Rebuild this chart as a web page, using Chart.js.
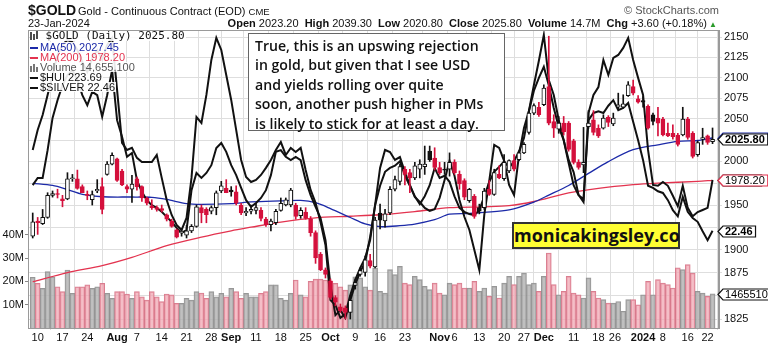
<!DOCTYPE html>
<html>
<head>
<meta charset="utf-8">
<script src="https://cdn.jsdelivr.net/npm/chart.js@4.4.1/dist/chart.umd.min.js"></script>
<style>
  body { margin: 0; background: #fff; }
  #wrap { position: relative; width: 768px; height: 344px; overflow: hidden; font-family: "Liberation Sans", Arial, sans-serif; color: #111; }
  #dataChart { position: absolute; left: 0; top: 0; }
  .abs { position: absolute; white-space: nowrap; line-height: 1; }
  .row { position: absolute; left: 30px; white-space: nowrap; font-size: 11px; line-height: 10px; background: rgba(255,255,255,0.9); padding-right: 1px; }
  .dash { display: inline-block; width: 8px; height: 2px; vertical-align: middle; margin-right: 2px; }
  #note { position: absolute; left: 248px; top: 33px; width: 243px; height: 92px; border: 1px solid #666; background: #fff;
          padding: 2px 6px; font-family: "Open Sans", sans-serif; font-weight: 600; font-size: 14.1px; line-height: 19.4px; color: #111; white-space: nowrap; }
  #site { position: absolute; left: 512px; top: 222px; width: 164px; height: 23px; border: 2px solid #333; background: #ffff33;
          font-family: "Open Sans", sans-serif; font-weight: 700; font-size: 18px; line-height: 23px; text-align: center; color: #111; }
</style>
</head>
<body>
<div id="wrap">
  <canvas id="dataChart" width="768" height="344"></canvas>

  <div class="abs" style="left:28px;top:3px;font-size:14px;font-weight:bold">$GOLD</div>
  <div class="abs" style="left:78px;top:6px;font-size:11px">Gold - Continuous Contract (EOD) <span style="font-size:9.5px">CME</span></div>
  <div class="abs" style="left:28px;top:18px;font-size:11px">23-Jan-2024</div>
  <div class="abs" style="right:51px;top:18px;font-size:11px"><b>Open</b> 2023.20 &nbsp;<b>High</b> 2039.30 &nbsp;<b>Low</b> 2020.80 &nbsp;<b>Close</b> 2025.80 &nbsp;<b>Volume</b> 14.7M &nbsp;<b>Chg</b> +3.60 (+0.18%)<span style="color:#2a9a2a;font-size:8px"> &#9650;</span></div>
  <div class="abs" style="right:49px;top:5px;font-size:11px;color:#555">&#169; StockCharts.com</div>

  <div class="row" style="top:31px;font-family:'DejaVu Sans Mono',monospace"><svg width="9" height="9" style="vertical-align:-1px"><path d="M1 1v8M4 3v6M7 0v8" stroke="#111" stroke-width="1.5"/></svg> $GOLD (Daily) 2025.80</div>
  <div class="row" style="top:42px;color:#1c2aa8"><span class="dash" style="background:#1c2aa8"></span>MA(50) 2027.45</div>
  <div class="row" style="top:52px;color:#e3334f"><span class="dash" style="background:#e3334f"></span>MA(200) 1978.20</div>
  <div class="row" style="top:62px;color:#555"><svg width="9" height="9" style="vertical-align:-1px;margin-right:1px"><path d="M1 3v6M4 1v8M7 4v5" stroke="#777" stroke-width="2"/></svg>Volume 14,655,100</div>
  <div class="row" style="top:72px"><span class="dash" style="background:#111"></span>$HUI 223.69</div>
  <div class="row" style="top:82px"><span class="dash" style="background:#111"></span>$SILVER 22.46</div>

  <div id="note">True, this is an upswing rejection<br>in gold, but given that I see USD<br>and yields rolling over quite<br>soon, another push higher in PMs<br>is likely to stick for at least a day.</div>
  <div id="site">monicakingsley.co</div>
</div>

<script>
// trading days, Jul 7 2023 .. Jan 23 2024
const dates = [
  'Jul 7','Jul 10','Jul 11','Jul 12','Jul 13','Jul 14','Jul 17','Jul 18','Jul 19','Jul 20','Jul 21','Jul 24','Jul 25','Jul 26','Jul 27','Jul 28','Jul 31',
  'Aug 1','Aug 2','Aug 3','Aug 4','Aug 7','Aug 8','Aug 9','Aug 10','Aug 11','Aug 14','Aug 15','Aug 16','Aug 17','Aug 18','Aug 21','Aug 22','Aug 23','Aug 24','Aug 25','Aug 28','Aug 29','Aug 30','Aug 31',
  'Sep 1','Sep 5','Sep 6','Sep 7','Sep 8','Sep 11','Sep 12','Sep 13','Sep 14','Sep 15','Sep 18','Sep 19','Sep 20','Sep 21','Sep 22','Sep 25','Sep 26','Sep 27','Sep 28','Sep 29',
  'Oct 2','Oct 3','Oct 4','Oct 5','Oct 6','Oct 9','Oct 10','Oct 11','Oct 12','Oct 13','Oct 16','Oct 17','Oct 18','Oct 19','Oct 20','Oct 23','Oct 24','Oct 25','Oct 26','Oct 27','Oct 30','Oct 31',
  'Nov 1','Nov 2','Nov 3','Nov 6','Nov 7','Nov 8','Nov 9','Nov 10','Nov 13','Nov 14','Nov 15','Nov 16','Nov 17','Nov 20','Nov 21','Nov 22','Nov 24','Nov 27','Nov 28','Nov 29','Nov 30',
  'Dec 1','Dec 4','Dec 5','Dec 6','Dec 7','Dec 8','Dec 11','Dec 12','Dec 13','Dec 14','Dec 15','Dec 18','Dec 19','Dec 20','Dec 21','Dec 22','Dec 26','Dec 27','Dec 28','Dec 29',
  'Jan 2','Jan 3','Jan 4','Jan 5','Jan 8','Jan 9','Jan 10','Jan 11','Jan 12','Jan 16','Jan 17','Jan 18','Jan 19','Jan 22','Jan 23'
];

const openPrices = [
  1915,1932,1929,1936,1961,1963,1957,1957,1980,1980,1971,1962,1956,1966,1971,1985,1997,
  2003,1989,1971,1968,1980,1971,1958,1949,1947,1946,1939,1932,1922,1919,1916,1921,1926,1947,1945,1943,1947,1966,1969,
  1967,1965,1950,1941,1943,1944,1944,1934,1928,1930,1944,1950,1950,1950,1938,1942,1934,1919,1895,1878,
  1866,1848,1838,1837,1832,1861,1873,1875,1888,1881,1941,1932,1941,1968,1977,1991,1987,1981,1991,1994,2012,2004,
  1993,1991,1991,1999,1985,1978,1955,1960,1947,1947,1968,1962,1985,1980,1989,2001,2002,2010,2034,2057,2064,
  2067,2089,2047,2038,2045,2045,2024,1999,1996,2041,2049,2039,2039,2052,2044,2064,2064,2078,2089,2074,
  2072,2065,2055,2051,2050,2033,2033,2031,2031,2050,2033,2008,2026,2030,2023.2
];
const highPrices = [
  1941,1936,1945,1964,1966,1968,1961,1987,1985,1990,1973,1966,1966,1979,1981,2000,2010,
  2004,1991,1973,1984,1982,1972,1959,1956,1949,1950,1940,1934,1923,1923,1927,1928,1950,1950,1947,1949,1966,1977,1979,
  1971,1972,1952,1947,1950,1952,1947,1936,1934,1945,1958,1958,1969,1952,1947,1947,1937,1921,1897,1880,
  1868,1850,1841,1839,1850,1868,1880,1893,1895,1936,1951,1945,1971,1983,1997,1994,1991,1999,2002,2018,2018,2016,
  1999,1999,2010,2002,1989,1980,1969,1962,1951,1969,1978,1991,1995,2008,2002,2008,2012,2022,2061,2068,2070,
  2091,2151,2055,2053,2053,2047,2026,2002,2040,2060,2060,2043,2055,2054,2057,2081,2079,2095,2097,2078,
  2077,2067,2057,2064,2052,2045,2043,2033,2064,2052,2035,2024,2039,2031,2039.3
];
const lowPrices = [
  1913,1917,1928,1935,1959,1958,1948,1956,1977,1968,1964,1956,1950,1964,1940,1984,1996,
  1977,1972,1964,1953,1967,1954,1950,1945,1943,1942,1932,1925,1913,1915,1913,1919,1925,1930,1930,1940,1939,1964,1964,
  1960,1950,1939,1938,1940,1940,1932,1926,1921,1928,1943,1949,1948,1934,1935,1934,1915,1885,1877,1869,
  1846,1839,1832,1825,1825,1857,1871,1871,1880,1880,1923,1925,1939,1966,1973,1973,1964,1979,1981,1985,2000,1990,
  1985,1985,1983,1985,1968,1956,1953,1935,1940,1945,1961,1961,1980,1978,1987,1989,2001,2009,2032,2055,2053,
  2066,2043,2028,2033,2031,2012,1997,1991,1987,2039,2031,2028,2038,2041,2042,2062,2063,2077,2079,2069,
  2064,2038,2043,2030,2030,2029,2026,2018,2030,2026,2004,2006,2020,2020,2020.8
];
const closePrices = [
  1931,1930,1936,1961,1963,1962,1955,1980,1981,1969,1964,1961,1962,1968,1945,1997,2007,
  1978,1973,1968,1974,1971,1958,1952,1947,1945,1944,1934,1926,1914,1919,1921,1926,1948,1941,1939,1947,1964,1972,1964,
  1965,1952,1941,1943,1945,1947,1935,1928,1932,1943,1952,1956,1967,1937,1944,1935,1919,1891,1878,1873,
  1848,1843,1834,1832,1845,1864,1877,1889,1882,1933,1933,1940,1968,1979,1994,1985,1981,1995,1997,1997,2002,1993,
  1987,1990,1999,1987,1974,1959,1968,1937,1943,1966,1962,1987,1981,1999,2001,1991,2010,2020,2057,2066,2055,
  2087,2045,2039,2045,2035,2014,1999,1993,1999,2045,2034,2030,2051,2046,2051,2067,2068,2091,2081,2070,
  2070,2039,2047,2045,2031,2030,2029,2020,2050,2028,2006,2022,2028,2022.2,2025.8
];
// volume in millions
const volumes = [
  21.8,19.2,17.0,24.2,22.0,17.7,15.6,24.9,14.9,17.7,17.7,18.5,17.0,17.7,19.2,14.9,12.7,
  15.6,15.6,14.6,12.7,15.6,13.4,12.0,15.6,13.4,11.3,14.6,14.2,10.6,10.6,12.7,12.0,15.6,15.0,12.7,15.6,13.4,14.9,13.4,
  17.0,15.6,12.7,14.9,13.4,13.4,14.9,15.6,18.5,18.5,12.7,12.0,14.9,20.6,14.2,13.4,20.0,21.0,21.0,20.6,
  20.0,19.2,17.7,16.3,18.5,22.0,21.5,17.7,16.3,25.8,15.7,15.0,25.1,22.9,26.5,19.3,18.6,22.2,20.8,17.9,16.5,19.3,
  15.0,14.3,19.3,18.6,19.3,17.2,17.2,20.0,15.7,17.2,13.6,17.9,12.9,19.3,22.2,18.6,22.2,23.6,18.6,19.3,15.7,
  22.2,32.2,18.6,14.3,15.7,22.2,15.0,14.3,12.9,21.5,15.7,12.9,12.2,10.7,10.7,11.4,7.2,12.2,12.2,10.0,
  14.3,20.0,14.3,20.8,19.3,18.6,17.2,25.8,25.1,27.2,23.6,15.7,15.0,13.6,14.6551
];

const ma50Dates = ['Jul 7','Jul 13','Jul 18','Jul 21','Jul 27','Aug 4','Aug 10','Aug 15','Aug 21','Aug 24','Sep 1','Sep 8','Sep 18','Sep 22','Sep 27',
  'Oct 2','Oct 6','Oct 11','Oct 16','Oct 20','Oct 25','Oct 31','Nov 3','Nov 9','Nov 14','Nov 21','Nov 29','Dec 4','Dec 8','Dec 14','Dec 20','Dec 28','Jan 5','Jan 11','Jan 18','Jan 23'];
const ma50Values = [1974.7,1972.3,1967.6,1962.2,1959.4,1959.1,1958.8,1956.4,1951.5,1950.7,1951.5,1953.5,1954.6,1955.2,1952.6,
  1946.0,1935.9,1928.7,1925.6,1926.7,1928.5,1933.4,1939.6,1940.4,1941.6,1944.4,1953.4,1961.3,1972.3,1986.2,1999.9,2013.7,2019.5,2023.5,2024.5,2027.45];

const ma200Dates = ['Jul 7','Jul 18','Jul 27','Aug 4','Aug 15','Aug 24','Sep 1','Sep 8','Sep 18','Sep 27','Oct 6','Oct 16','Oct 25','Nov 3','Nov 14','Nov 21','Nov 29','Dec 8','Dec 18','Dec 28','Jan 5','Jan 18','Jan 23'];
const ma200Values = [1865,1875,1882.5,1891.5,1904.5,1914,1921,1925,1930.8,1935.6,1937.3,1939,1942.6,1947,1948,1949.3,1954,1963.7,1969,1973.2,1975,1977,1978.2];

const huiValues = [
  230.9,235.7,239.3,244.1,248.9,253.7,256.1,257.3,256.8,254.9,252.0,249.6,253.0,254.9,252.5,256.1,257.8,
  245.3,232.6,230.9,231.4,229.0,228.0,228.0,228.0,229.7,224.2,218.9,215.3,212.9,211.7,214.6,224.2,238.8,237.4,244.1,252.5,257.8,254.9,248.9,
  242.9,235.7,228.5,224.4,223.2,223.7,224.9,226.6,228.5,230.9,232.8,229.7,231.4,230.4,231.4,226.1,221.3,218.2,213.6,208.1,
  194.9,193.7,190.6,191.5,196.1,199.7,202.6,205.0,209.3,217.7,226.6,230.9,230.4,228.5,229.2,225.6,222.5,219.6,218.4,217.0,216.3,216.7,
  219.4,223.7,228.3,224.7,218.9,214.8,211.7,206.9,202.1,215.3,223.5,232.1,231.4,228.3,222.5,220.1,229.7,236.2,240.3,246.5,252.3,
  258.5,247.7,244.1,238.1,233.3,228.5,225.6,220.1,218.4,239.8,244.1,246.0,252.5,248.9,253.0,253.7,255.4,257.8,252.5,248.2,
  244.1,230.9,222.5,222.3,223.2,222.3,219.9,217.4,222.3,217.0,215.0,216.0,216.5,217.0,223.69
];
const silverValues = [
  23.28,23.41,23.41,23.91,24.49,24.81,25.08,25.26,25.35,25.17,24.90,24.72,24.96,24.90,24.51,24.90,25.35,
  24.45,24.15,23.79,23.86,23.37,23.16,23.01,22.92,22.87,22.80,22.71,22.62,22.51,22.42,22.47,23.19,23.50,23.41,23.50,23.64,23.95,24.04,23.88,
  23.64,23.46,23.23,23.01,22.89,22.96,23.05,23.19,23.46,23.88,23.91,23.79,23.73,23.79,23.73,23.37,23.10,22.89,22.69,22.29,
  21.48,20.94,21.03,20.89,21.21,21.50,21.72,21.90,22.35,22.92,23.27,23.52,23.59,23.63,23.71,23.45,23.27,23.08,22.94,23.08,23.28,23.59,
  23.41,23.45,23.34,23.08,22.87,22.80,22.76,22.74,22.83,23.08,23.34,23.52,23.61,23.71,23.59,23.71,23.89,24.13,24.61,24.98,25.21,
  25.41,25.08,24.67,24.33,24.09,23.68,23.28,23.10,23.03,24.45,24.58,24.61,24.58,24.71,24.81,24.63,24.67,24.76,24.42,24.09,
  23.73,23.27,23.23,23.17,23.14,23.01,22.83,22.72,23.07,22.80,22.69,22.62,22.45,22.29,22.46
];

const tickDates = ['Jul 10','Jul 17','Jul 24','Aug 1','Aug 7','Aug 14','Aug 21','Aug 28','Sep 1','Sep 11','Sep 18','Sep 25','Oct 2','Oct 9','Oct 16','Oct 23',
  'Nov 1','Nov 6','Nov 13','Nov 20','Nov 27','Dec 1','Dec 11','Dec 18','Dec 26','Jan 2','Jan 8','Jan 16','Jan 22'];
const tickLabels = ['10','17','24','Aug','7','14','21','28','Sep','11','18','25','Oct','9','16','23','Nov','6','13','20','27','Dec','11','18','26','2024','8','16','22'];
const boldLabels = ['Aug','Sep','Oct','Nov','Dec','2024'];

const priceTicks = [1825,1850,1875,1900,1925,1950,1975,2000,2025,2050,2075,2100,2125,2150];
const hiddenPriceTicks = [1850,1925,1975,2025]; // covered by value tags
const volumeTicks = [10,20,30,40];

const RED = '#d4103c';
const DARK = '#111';

let chart;

function candleColor(i) {
  const prev = i > 0 ? closePrices[i - 1] : openPrices[i];
  return closePrices[i] < prev ? RED : DARK;
}

const framePlugin = {
  id: 'frame',
  afterDatasetsDraw(c) {
    const a = c.chartArea;
    const ctx = c.ctx;
    ctx.save();
    ctx.strokeStyle = '#9a9a9a';
    ctx.lineWidth = 1;
    ctx.strokeRect(a.left + 0.5, a.top + 0.5, a.right - a.left - 1, a.bottom - a.top);
    ctx.restore();
  }
};

// value tags on the right edge
const tagPlugin = {
  id: 'tags',
  afterDraw(c) {
    const last = dates.length - 1;
    const tags = [
      { axis: 'yh', value: huiValues[last], text: huiValues[last].toFixed(2), border: DARK, bold: true },
      { axis: 'y', value: ma50Values[ma50Values.length - 1], text: ma50Values[ma50Values.length - 1].toFixed(2), border: '#1c2aa8', bold: true },
      { axis: 'y', value: ma200Values[ma200Values.length - 1], text: ma200Values[ma200Values.length - 1].toFixed(2), border: '#e3334f', bold: false },
      { axis: 'y', value: closePrices[last], text: closePrices[last].toFixed(2), border: DARK, bold: true },
      { axis: 'ys', value: silverValues[last], text: silverValues[last].toFixed(2), border: DARK, bold: true },
      { axis: 'yv', value: volumes[last], text: String(Math.round(volumes[last] * 1e6)).slice(0, 7), border: DARK, bold: false }
    ];
    const ctx = c.ctx;
    const x = c.chartArea.right - 1;
    ctx.save();
    tags.forEach(t => {
      const y = Math.round(c.scales[t.axis].getPixelForValue(t.value)) + 0.5;
      ctx.font = (t.bold ? 'bold ' : '') + '11px "Liberation Sans"';
      const w = ctx.measureText(t.text).width + 5;
      ctx.beginPath();
      ctx.moveTo(x, y);
      ctx.lineTo(x + 5, y - 5.5);
      ctx.lineTo(x + 5 + w, y - 5.5);
      ctx.lineTo(x + 5 + w, y + 5.5);
      ctx.lineTo(x + 5, y + 5.5);
      ctx.closePath();
      ctx.fillStyle = '#fff';
      ctx.fill();
      ctx.strokeStyle = t.border;
      ctx.lineWidth = 1.2;
      ctx.stroke();
      ctx.fillStyle = '#000';
      ctx.textBaseline = 'middle';
      ctx.fillText(t.text, x + 7, y + 0.5);
    });
    ctx.restore();
  }
};

function createChart() {
  const ctx = document.getElementById('dataChart').getContext('2d');
  Chart.defaults.font.family = '"Liberation Sans", Arial, sans-serif';
  Chart.defaults.font.size = 11;

  const colors = dates.map((d, i) => candleColor(i));

  chart = new Chart(ctx, {
    type: 'bar',
    data: {
      datasets: [
        {
          label: 'Bodies',
          data: dates.map((d, i) => ({ x: i, y: [openPrices[i], closePrices[i]] })),
          yAxisID: 'y',
          grouped: false,
          barThickness: 4,
          minBarLength: 1,
          borderWidth: 1,
          borderSkipped: false,
          borderColor: colors,
          backgroundColor: dates.map((d, i) => closePrices[i] >= openPrices[i] ? '#ffffff' : colors[i]),
          order: 0
        },
        {
          label: 'Wicks',
          data: dates.map((d, i) => ({ x: i, y: [lowPrices[i], highPrices[i]] })),
          yAxisID: 'y',
          grouped: false,
          barThickness: 1,
          borderWidth: 0,
          backgroundColor: colors,
          order: 1
        },
        {
          type: 'line',
          label: '$HUI',
          data: huiValues.map((v, i) => ({ x: i, y: v })),
          yAxisID: 'yh',
          borderColor: '#111',
          borderWidth: 2,
          pointRadius: 0,
          tension: 0,
          order: 2
        },
        {
          type: 'line',
          label: '$SILVER',
          data: silverValues.map((v, i) => ({ x: i, y: v })),
          yAxisID: 'ys',
          borderColor: '#111',
          borderWidth: 2,
          pointRadius: 0,
          tension: 0,
          order: 2
        },
        {
          type: 'line',
          label: 'MA(50)',
          data: ma50Dates.map((d, k) => ({ x: dates.indexOf(d), y: ma50Values[k] })),
          yAxisID: 'y',
          borderColor: '#1c2aa8',
          borderWidth: 1.3,
          pointRadius: 0,
          tension: 0.3,
          order: 3
        },
        {
          type: 'line',
          label: 'MA(200)',
          data: ma200Dates.map((d, k) => ({ x: dates.indexOf(d), y: ma200Values[k] })),
          yAxisID: 'y',
          borderColor: '#e3334f',
          borderWidth: 1.3,
          pointRadius: 0,
          tension: 0.3,
          order: 3
        },
        {
          label: 'Volume',
          data: volumes.map((v, i) => ({ x: i, y: v })),
          yAxisID: 'yv',
          grouped: false,
          barThickness: 5,
          borderWidth: 1,
          backgroundColor: dates.map((d, i) => colors[i] === RED ? 'rgba(240,168,180,0.75)' : 'rgba(176,176,176,0.8)'),
          borderColor: dates.map((d, i) => colors[i] === RED ? 'rgba(214,112,132,0.9)' : 'rgba(140,140,140,0.9)'),
          order: 4
        }
      ]
    },
    options: {
      responsive: false,
      animation: false,
      events: [],
      layout: { padding: { top: 30, left: 0, right: 0, bottom: 0 } },
      plugins: { legend: { display: false }, tooltip: { enabled: false } },
      scales: {
        x: {
          type: 'linear',
          position: 'bottom',
          offset: false,
          min: -0.95,
          max: 138.3,
          afterFit: s => { s.height = 16; },
          afterBuildTicks: s => { s.ticks = tickDates.map(d => ({ value: dates.indexOf(d) })); },
          ticks: {
            autoSkip: false,
            maxRotation: 0,
            padding: 1,
            color: '#111',
            font: c => ({ family: '"Liberation Sans", Arial, sans-serif', size: 11, weight: boldLabels.includes(tickLabels[c.index]) ? 'bold' : 'normal' }),
            // the "26" label sits left of its gridline, as in crowded weeks
            callback: (v, i) => tickLabels[i] === '26' ? tickLabels[i] + '\u2002\u2002\u2002' : tickLabels[i]
          },
          grid: { color: '#dedede', tickLength: 2 },
          border: { color: '#9a9a9a' }
        },
        y: {
          type: 'logarithmic',
          position: 'right',
          min: 1815.5,
          max: 2158.8,
          afterFit: s => { s.width = 49; },
          afterBuildTicks: s => { s.ticks = priceTicks.map(v => ({ value: v })); },
          ticks: {
            color: '#111',
            padding: 2,
            callback: v => hiddenPriceTicks.includes(v) ? '' : String(v)
          },
          grid: { color: '#dedede', tickLength: 3 },
          border: { color: '#9a9a9a' }
        },
        yv: {
          type: 'linear',
          position: 'left',
          min: 0,
          max: 128,
          afterFit: s => { s.width = 28; },
          afterBuildTicks: s => { s.ticks = volumeTicks.map(v => ({ value: v })); },
          ticks: { color: '#111', padding: 1, callback: v => v + 'M' },
          grid: { drawOnChartArea: false, tickLength: 3, color: '#888' },
          border: { color: '#9a9a9a' }
        },
        yh: { type: 'linear', display: false, min: 188.17, max: 259.69 },
        ys: { type: 'linear', display: false, min: 20.709, max: 26.073 }
      }
    },
    plugins: [framePlugin, tagPlugin]
  });
}

window.onload = function() {
  createChart();
};
</script>
</body>
</html>
